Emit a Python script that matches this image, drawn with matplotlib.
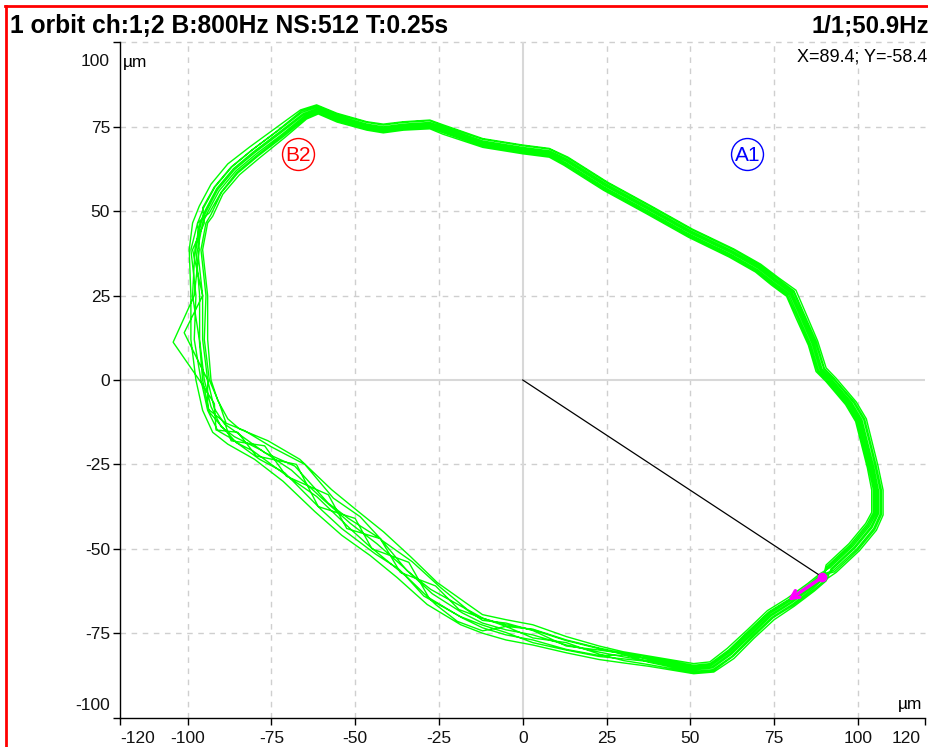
import numpy as np
import matplotlib
matplotlib.use("Agg")
import matplotlib.pyplot as plt
from matplotlib.lines import Line2D

plt.rcParams['font.family'] = ['Liberation Sans', 'DejaVu Sans']

# ---------------- data ----------------
title_left = "1 orbit ch:1;2 B:800Hz NS:512 T:0.25s"
title_right = "1/1;50.9Hz"
cursor_text = "X=89.4; Y=-58.4"
unit = "\u00b5m"

x_ticks = [-120, -100, -75, -50, -25, 0, 25, 50, 75, 100, 120]
y_ticks = [-100, -75, -50, -25, 0, 25, 50, 75, 100]
grid_x = [-100, -75, -50, -25, 25, 50, 75, 100]
grid_y = [-75, -50, -25, 25, 50, 75, 100]

cursor_x, cursor_y = 89.4, -58.4
arrow_tip = (79.1, -65.3)
marker_a1 = (67, 67)
marker_b2 = (-67, 67)

# revolutions of the orbit (x, y in um), clockwise from the cursor point
rev_center = [(89.4,-58.4),(86,-61.3),(80,-65.8),(74,-69.5),(68,-75.2),(62,-81),(56.4,-85),(51,-85.6),(45,-84.5),(37.6,-83.2),
              (30,-82),(22.8,-80.6),(13,-78.5),(3,-75.5),(-5,-74),(-12,-72),(-18,-69),(-27,-63.3),(-35.6,-55.4),(-43.5,-48.5),
              (-51.4,-42.5),(-59.3,-35.6),(-69,-26.7),(-78,-20.8),(-86,-16.8),(-90,-13.8),(-93,-7.9),(-95,0),(-96.4,12),(-96.4,25),
              (-97.5,38.6),(-96,46.5),(-94.4,50),(-91,56.4),(-86,62.3),(-80,67.3),(-72.2,73.2),(-65.3,78.6),(-61.3,80.1),(-55.4,77.6),
              (-46.5,75.2),(-41.6,74.4),(-35.6,75.2),(-27.7,75.7),(-23.8,74.2),(-11.9,70.2),(0,68.3),(7.9,67.3),(12.9,64.8),(24.7,57.4),
              (37.6,50.4),(50,43.5),(62.3,37.6),(70.2,33.1),(75.2,29.2),(80.1,25.7),(83.1,18.8),(86.6,10.9),(89,3),(92,0),
              (97.9,-6.9),(100.9,-11.9),(102.9,-19.8),(104.4,-25.7),(105.8,-32.6),(105.8,-39.6),(103.9,-43.5),(98.9,-49.5),(92,-55.9)]

rev_outer = [(90.5,-59.5),(87,-62.5),(81,-67),(75,-71),(69,-76.5),(63,-82.5),(57,-86.5),(51,-87),(45,-86),(37.6,-84.8),
             (30,-83.8),(22.8,-82.8),(13,-80.8),(3,-78.5),(-5,-77),(-12,-75),(-18.5,-72.5),(-28.5,-66.5),(-37.5,-58.5),(-45.5,-52),
             (-54,-46),(-62,-39),(-71.5,-30),(-80,-23.5),(-88,-19),(-92.5,-15.5),(-95.5,-9),(-97.5,0),(-99,12),(-99,25),
             (-99.5,38.6),(-98.5,46.5),(-96.5,51.5),(-93,58),(-88,64),(-81.5,69),(-73.5,74.8),(-66.3,80),(-61.5,81.5),(-55.4,79),
             (-46.5,76.5),(-41.6,75.8),(-35.6,76.5),(-27.7,77),(-23.8,75.6),(-11.9,71.5),(0,69.6),(7.9,68.6),(13.5,66),(25.3,58.6),
             (38.2,51.6),(50.6,44.7),(63,38.8),(71,34.3),(76.3,30.3),(81.5,26.6),(84.6,19.4),(88,11.5),(90.5,3.6),(93.5,0.5),
             (99.5,-6.5),(102.5,-11.5),(104.5,-19.5),(106,-25.5),(107.5,-32.6),(107.5,-40),(105.5,-44.5),(100.5,-50.5),(93.5,-57)]

rev_a = [(90.1,-59.3),(86.7,-62.2),(80.7,-66.7),(74.7,-70.4),(68.7,-76.1),(62.7,-81.9),(56.9,-86.1),(51,-86.7),(45,-85.6),(37.6,-84.3),
         (30,-83.1),(22.8,-81.2),(13,-77.8),(3,-76.4),(-5,-73),(-12,-74.3),(-19.5,-71.5),(-26,-66.5),(-37,-56),(-44,-51.5),
         (-54,-44),(-60,-38.5),(-71,-27.5),(-78.5,-23.5),(-87.5,-17),(-91,-15),(-94,-9),(-96,0),(-98,12),(-97.5,25),
         (-99,38.6),(-97,46.5),(-95.2,51),(-91.8,57.2),(-86.8,63.1),(-80.8,68.1),(-73,74),(-66,79.7),(-61.4,81.2),(-55.4,78.7),
         (-46.5,76.3),(-41.6,75.5),(-35.6,76.3),(-27.7,76.8),(-23.8,75.3),(-11.9,71.3),(0,69.4),(7.9,68.4),(13.4,65.8),(25.2,58.4),
         (38.1,51.4),(50.5,44.5),(62.8,38.6),(70.7,34.1),(75.9,30.1),(80.9,26.4),(84.1,19.2),(87.6,11.3),(90,3.4),(93,0.3),
         (99,-6.6),(102,-11.6),(104,-19.6),(105.5,-25.6),(107,-32.6),(107,-39.9),(105,-44.3),(100,-50.3),(93,-56.8)]

rev_spike = [(89,-58),(85.5,-61),(79.5,-65.2),(73.5,-68.9),(67.5,-74.6),(61.5,-80.3),(56,-84.3),(51,-84.8),(45,-83.8),(37.6,-82.5),
             (30,-81.5),(22.8,-81.6),(13,-79.8),(3,-77),(-5,-75.5),(-12,-73.4),(-18,-70.5),(-28,-64.5),(-34,-54),(-45,-50),
             (-50,-41),(-61,-37.5),(-67.5,-25),(-79.5,-22.5),(-85,-15.5),(-91.5,-14.8),(-92,-7),(-96.5,0),(-104.3,11.2),(-98,25),
             (-96.5,38.6),(-97,46.5),(-93.5,49.5),(-90,55.6),(-85.3,61.5),(-79.3,66.5),(-71.6,72.5),(-64.9,77.9),(-61.2,79.5),(-55.4,77),
             (-46.5,74.6),(-41.6,73.8),(-35.6,74.6),(-27.7,75),(-23.8,73.5),(-11.9,69.5),(0,67.7),(7.9,66.7),(12.6,64.2),(24.4,56.8),
             (37.3,49.8),(49.7,42.9),(62,37),(69.8,32.5),(74.7,28.6),(79.4,25.2),(82.4,18.5),(85.9,10.6),(88.3,2.7),(91.3,-0.3),
             (97.1,-7.1),(100.1,-12.1),(102.1,-20),(103.6,-25.8),(105,-32.6),(105,-39.4),(103.1,-43),(98.1,-49),(91.3,-55.3)]

rev_b = [(89.2,-58.1),(85.8,-61),(79.8,-65.4),(73.8,-69.1),(67.8,-74.8),(61.8,-80.6),(56.2,-84.6),(51,-85.2),(45,-84.1),(37.6,-82.8),
         (30,-81),(22.8,-80),(13,-78.8),(3,-74.2),(-5,-72),(-12,-71.2),(-17.5,-67.5),(-27.5,-62),(-34.5,-56.5),(-42.5,-47),
         (-52,-41),(-58,-36.5),(-68,-25.5),(-77,-21.5),(-85,-15.8),(-89,-13),(-92,-8.5),(-94,0),(-95.5,12),(-95.5,25),
         (-97,38.6),(-95.5,46.5),(-94,49.7),(-90.6,56),(-85.6,61.9),(-79.6,66.9),(-71.8,72.8),(-65,78.3),(-61.2,79.7),(-55.4,77.2),
         (-46.5,74.8),(-41.6,74),(-35.6,74.8),(-27.7,75.3),(-23.8,73.8),(-11.9,69.8),(0,67.9),(7.9,66.9),(12.7,64.4),(24.5,57),
         (37.4,50),(49.8,43.1),(62.1,37.2),(70,32.7),(75,28.8),(79.8,25.4),(82.8,18.7),(86.3,10.8),(88.7,2.9),(91.7,-0.2),
         (97.5,-7),(100.5,-12),(102.5,-19.9),(104,-25.7),(105.4,-32.6),(105.4,-39.5),(103.5,-43.2),(98.5,-49.2),(91.6,-55.6)]

rev_inner = [(88.5,-57.5),(85,-60.3),(79,-64.6),(73,-68.3),(67,-74),(61,-79.5),(55.8,-83.5),(51,-84),(45,-83),(37.6,-81.8),
             (30,-80.5),(22.8,-78.8),(13,-76),(3,-72.5),(-5,-71),(-12,-69.5),(-17,-66),(-25.5,-60),(-33.5,-52.3),(-41.5,-45),
             (-49,-39),(-57,-32.5),(-66.5,-23.5),(-76,-18),(-84.5,-14.5),(-88,-11.5),(-91,-6),(-93,0),(-94,12),(-94,25),
             (-95.5,38.6),(-94,46.5),(-92.5,48.5),(-89.5,55),(-84.5,60.8),(-78.5,65.8),(-71,71.8),(-64.5,77.3),(-61,78.8),(-55.4,76.4),
             (-46.5,74),(-41.6,73.2),(-35.6,74),(-27.7,74.4),(-23.8,72.8),(-11.9,68.9),(0,67),(7.9,66),(12.3,63.6),(24.1,56.2),
             (37,49.2),(49.4,42.3),(61.6,36.4),(69.4,32),(74.2,28.1),(78.7,24.8),(81.6,18.2),(85.2,10.3),(87.5,2.5),(90.5,-0.5),
             (96.3,-7.3),(99.3,-12.3),(101.3,-20.1),(102.8,-26),(104.1,-32.6),(104.1,-39.2),(102.3,-42.5),(97.3,-48.5),(90.5,-54.8)]

rev_d = [(89.6,-58.6),(86.2,-61.5),(80.2,-66),(74.2,-69.8),(68.2,-75.5),(62.2,-81.3),(56.6,-85.3),(51,-85.9),(45,-84.8),(37.6,-83.4),
         (30,-82.6),(22.8,-81.9),(13,-80),(3,-77.8),(-5,-74.8),(-12,-72.6),(-18.8,-70),(-29.5,-64),(-35,-58),(-46,-49),
         (-51,-44.5),(-61.5,-34.5),(-69.5,-29),(-80.5,-21),(-85.5,-18.5),(-90.5,-13),(-93.5,-9.5),(-95.5,0),(-96.5,12),(-98.5,25),
         (-97.8,38.6),(-96.3,46.5),(-94.7,50.3),(-91.3,56.7),(-86.3,62.6),(-80.3,67.6),(-72.5,73.5),(-65.5,78.9),(-61.3,80.4),(-55.4,77.9),
         (-46.5,75.5),(-41.6,74.7),(-35.6,75.5),(-27.7,76),(-23.8,74.5),(-11.9,70.5),(0,68.6),(7.9,67.6),(13,65.1),(24.8,57.7),
         (37.7,50.7),(50.1,43.8),(62.4,37.9),(70.4,33.4),(75.4,29.5),(80.4,25.9),(83.4,19),(86.9,11.1),(89.3,3.2),(92.3,0.1),
         (98.2,-6.8),(101.2,-11.8),(103.2,-19.7),(104.7,-25.7),(106.1,-32.6),(106.1,-39.7),(104.2,-43.7),(99.2,-49.7),(92.3,-56.1)]

rev_mixed = [(89.8,-58.8),(86.5,-61.8),(80.5,-66.4),(74.5,-70.2),(68.5,-75.8),(62.5,-81.8),(56.7,-85.8),(51,-86.3),(45,-85.2),(37.6,-83.6),
             (30,-81.2),(22.8,-79.6),(13,-77.2),(3,-74),(-5,-72.5),(-12,-70.6),(-19,-68),(-26,-61),(-36.5,-57),(-42.5,-47),
             (-52.5,-44),(-58,-34),(-70.5,-28.5),(-77,-19.5),(-87,-18),(-89,-12.5),(-94,-8.5),(-94,0),(-101,14),(-95.5,25),
             (-98.5,38.6),(-95,46.5),(-95.5,51),(-92,57.2),(-87,63.1),(-80.8,68.1),(-72.8,74),(-65.8,79.3),(-61.4,80.8),(-55.4,78.3),
             (-46.5,75.8),(-41.6,75),(-35.6,75.8),(-27.7,76.3),(-23.8,74.9),(-11.9,70.8),(0,68.9),(7.9,67.9),(13.2,65.4),(25,58),
             (37.9,51),(50.3,44.1),(62.6,38.2),(70.6,33.7),(75.7,29.7),(80.8,26.1),(83.8,19.1),(87.3,11.2),(89.8,3.3),(92.8,0.2),
             (98.7,-6.7),(101.7,-11.7),(103.7,-19.6),(105.2,-25.9),(106.6,-32.6),(106.6,-39.8),(104.7,-44),(99.7,-50),(92.7,-56.4)]

rev_c = [(88.8,-57.8),(85.4,-60.6),(79.4,-65),(73.4,-68.7),(67.4,-74.3),(61.4,-80),(55.9,-84),(51,-84.5),(45,-83.4),(37.6,-82.1),
         (30,-80.9),(22.8,-79.4),(13,-77),(3,-73.8),(-5,-73),(-12,-70.5),(-16.5,-68),(-24.5,-61.5),(-33,-53.8),(-42,-47.5),
         (-48.5,-40.5),(-56.5,-35),(-65,-25),(-75,-19.8),(-83,-15),(-88.5,-12.8),(-90.5,-7),(-93.5,0),(-95,12),(-94.5,25),
         (-96,38.6),(-94.5,46.5),(-93,49),(-89.9,55.5),(-85,61.3),(-79,66.3),(-71.3,72.2),(-64.6,77.7),(-61.1,79.2),(-55.4,76.7),
         (-46.5,74.3),(-41.6,73.5),(-35.6,74.3),(-27.7,74.8),(-23.8,73.3),(-11.9,69.3),(0,67.4),(7.9,66.4),(12.4,63.9),(24.2,56.5),
         (37.1,49.5),(49.5,42.6),(61.8,36.7),(69.6,32.3),(74.5,28.4),(79,25),(82,18.4),(85.5,10.5),(87.9,2.7),(90.9,-0.4),
         (96.7,-7.2),(99.7,-12.2),(101.7,-20.1),(103.2,-25.9),(104.6,-32.6),(104.6,-39.3),(102.7,-42.8),(97.7,-48.8),(90.9,-55.1)]

# ---------------- figure ----------------
W, H = 929, 747
fig = plt.figure(figsize=(W / 100, H / 100), dpi=100)
fig.patch.set_facecolor('white')

ax_l, ax_r, ax_b, ax_t = 120.5, 925.0, 717.6, 42.4
ax = fig.add_axes([ax_l / W, 1 - ax_b / H, (ax_r - ax_l) / W, (ax_b - ax_t) / H])
ax.set_xlim(-120, 120)
ax.set_ylim(-100, 100)

for s in ['top', 'right']:
    ax.spines[s].set_visible(False)
for s in ['left', 'bottom']:
    ax.spines[s].set_color('black')
    ax.spines[s].set_linewidth(1.0)

grid_col = '#cfcfcf'
for v in grid_x:
    ax.axvline(v, color=grid_col, lw=1.0, ls=(0, (4, 4)), zorder=0)
for v in grid_y:
    ax.axhline(v, color=grid_col, lw=1.0, ls=(0, (4, 4)), zorder=0, clip_on=False)
ax.axvline(0, color='#d8d8d8', lw=1.5, zorder=0)
ax.axhline(0, color='#d8d8d8', lw=1.5, zorder=0)

lab_size = 12.5
lab_col = '#111111'
tick_len = 5.0
xpad, ypad = 4.3, 2.5
ax.set_xticks(x_ticks)
ax.set_xticklabels([str(t) if abs(t) != 120 else '' for t in x_ticks])
ax.set_yticks(y_ticks)
ax.set_yticklabels([str(t) if abs(t) != 100 else '' for t in y_ticks])
ax.tick_params(axis='both', direction='out', length=tick_len, width=1, color='black',
               labelsize=lab_size, labelcolor=lab_col)
ax.tick_params(axis='x', pad=xpad)
ax.tick_params(axis='y', pad=ypad)

# end labels moved inside the axis extent (as in the reference)
xoff = -(tick_len + xpad)
yoff = -(tick_len + ypad)
ax.annotate(str(x_ticks[0]), xy=(x_ticks[0], 0), xycoords=('data', 'axes fraction'),
            xytext=(0, xoff), textcoords='offset points', ha='left', va='top',
            fontsize=lab_size, color=lab_col, annotation_clip=False)
ax.annotate(str(x_ticks[-1]), xy=(x_ticks[-1], 0), xycoords=('data', 'axes fraction'),
            xytext=(-3, xoff), textcoords='offset points', ha='right', va='top',
            fontsize=lab_size, color=lab_col, annotation_clip=False)
ax.annotate(str(y_ticks[0]), xy=(0, y_ticks[0]), xycoords=('axes fraction', 'data'),
            xytext=(yoff, 9), textcoords='offset points', ha='right', va='center',
            fontsize=lab_size, color=lab_col, annotation_clip=False)
ax.annotate(str(y_ticks[-1]), xy=(0, y_ticks[-1]), xycoords=('axes fraction', 'data'),
            xytext=(yoff, -14), textcoords='offset points', ha='right', va='center',
            fontsize=lab_size, color=lab_col, annotation_clip=False)

# orbit trace
revs = [rev_center, rev_outer, rev_a, rev_spike, rev_b, rev_inner, rev_d, rev_mixed, rev_c]
pts = np.array([p for r in revs for p in r] + [rev_center[0]])
ax.plot(pts[:, 0], pts[:, 1], color='#00ff00', lw=1.0, zorder=3)

# cursor line, dot and direction arrow
ax.plot([0, cursor_x], [0, cursor_y], color='black', lw=0.9, zorder=4)
ax.annotate('', xy=arrow_tip, xytext=(cursor_x, cursor_y),
            arrowprops=dict(arrowstyle='->', color='#ff00ff', lw=2.5, mutation_scale=14,
                            shrinkA=0, shrinkB=0), zorder=5)
ax.plot([cursor_x], [cursor_y], 'o', color='#ff00ff', ms=6, zorder=6)

# circled markers
for (mx, my), txt, col in [(marker_a1, 'A1', '#0000ff'), (marker_b2, 'B2', '#ff0000')]:
    ax.plot([mx], [my], 'o', ms=23, mfc='none', mec=col, mew=1.0, zorder=5)
    ax.text(mx, my, txt, color=col, fontsize=15, ha='center', va='center_baseline', zorder=5)

# unit labels
ax.text(123 / W, 1 - 62 / H, unit, transform=fig.transFigure, fontsize=lab_size, ha='left', va='center')
ax.text(922 / W, 1 - 705 / H, unit, transform=fig.transFigure, fontsize=lab_size, ha='right', va='center')

# titles
fig.text(10 / W, 1 - 26 / H, title_left, fontsize=17.7, fontweight='bold', ha='left', va='center')
fig.text(929 / W, 1 - 26 / H, title_right, fontsize=17.3, fontweight='bold', ha='right', va='center')
fig.text(797 / W, 1 - 57 / H, cursor_text, fontsize=13, ha='left', va='center',
         bbox=dict(boxstyle='square,pad=0.1', fc='white', ec='none'), zorder=10)

# red frame (left and top edges visible)
fig.add_artist(Line2D([6.5 / W, 6.5 / W], [0, 1 - 5.5 / H], transform=fig.transFigure, color='#ff0000', lw=2))
fig.add_artist(Line2D([5.5 / W, 1], [1 - 6.0 / H, 1 - 6.0 / H], transform=fig.transFigure, color='#ff0000', lw=2))

fig.savefig('out.png', dpi=100)
